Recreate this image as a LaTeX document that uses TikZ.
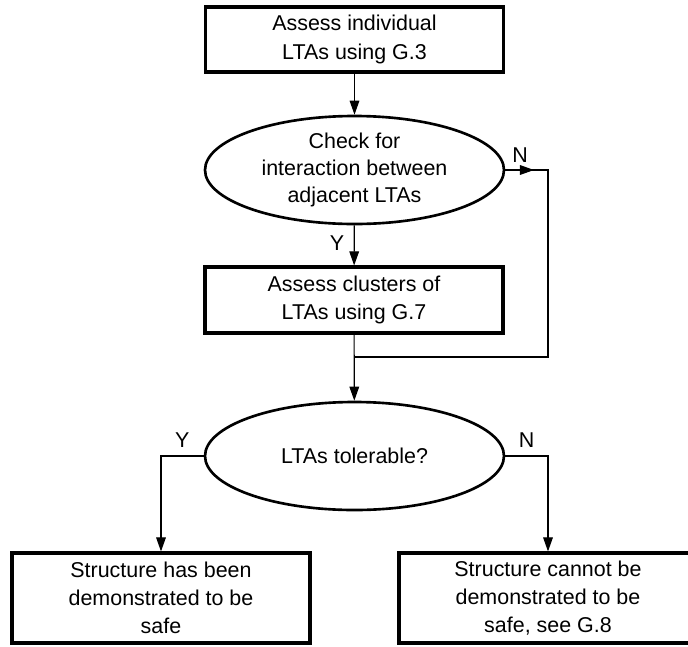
\documentclass[tikz,border=0pt]{standalone}
\usepackage{fontspec}
\setmainfont{Liberation Sans}
\usetikzlibrary{positioning,arrows.meta,calc,shapes.geometric}

\begin{document}
\begin{tikzpicture}[
  box/.style={draw, line width=1.8pt, minimum width=5.96cm, minimum height=#1,
    inner sep=0pt, align=center, font=\fontsize{12.2}{16}\selectfont},
  decision/.style={draw, ellipse, line width=1.5pt, minimum width=5.98cm,
    minimum height=2.16cm, inner sep=0pt, align=center,
    font=\fontsize{12.2}{15.5}\selectfont},
  lbl/.style={font=\fontsize{12.2}{14}\selectfont},
  arr/.style={-{Triangle[length=8pt, width=5.5pt]}, line width=0.65pt},
  line/.style={line width=0.65pt},
]
\useasboundingbox (0,0) rectangle (13.76,-12.92);
\clip (0,0) rectangle (13.76,-12.92);

% --- top of the chart ---
\node[box=1.30cm] (assess) at (7.09,-0.79) {Assess individual\\LTAs using G.3};
\node[decision] (check) at (7.09,-3.40) {Check for\\interaction between\\adjacent LTAs};
\node[box=1.32cm] (clust) at (7.08,-6.00) {Assess clusters of\\LTAs using G.7};

% --- second check ---
\node[decision] (toler) at (7.09,-9.12) {LTAs tolerable?};

% --- outcomes ---
\node[box=1.80cm] (safe) at (3.22,-11.96) {Structure has been\\demonstrated to be\\safe};
\node[box=1.80cm] (unsafe) at (10.96,-11.96) {Structure cannot be\\demonstrated to be\\safe, see G.8};

% corner points of the bypass
\coordinate (nr) at (check.east -| unsafe.north);
\coordinate (mrg) at (7.08,-7.14);

% --- connectors ---
\draw[arr] (assess) -- (check);
\draw[arr] (check) -- node[lbl, left=2pt, pos=0.45] {Y} (clust);
\draw[line] (check.east) -- (nr) |- (mrg);
\draw[arr] (check.east) -- ($(nr)+(-0.28,0)$);
\node[lbl] (nchk) at (10.40,-3.10) {N};
\draw[arr] (clust) -- (toler);
\draw[arr] (toler.west) -| node[lbl, pos=0.25, above=1pt] {Y} (safe.north);
\draw[arr] (toler.east) -| node[lbl, pos=0.25, above=1pt] {N} (unsafe.north);
\end{tikzpicture}
\end{document}
